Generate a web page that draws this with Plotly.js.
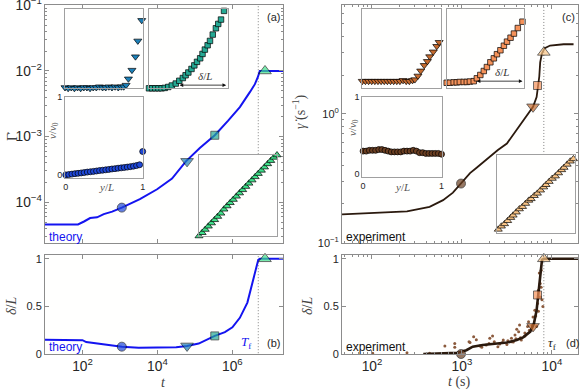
<!DOCTYPE html>
<html>
<head>
<meta charset="utf-8">
<script src="https://cdn.plot.ly/plotly-3.0.1.min.js"></script>
<style>
  html, body { margin: 0; padding: 0; background: #fff; }
  #chart { width: 581px; height: 390px; }
</style>
</head>
<body>
<div id="chart"></div>
<script>
// ---- theory, panel (a): shear rate vs t ----
var tTheory = [10, 76, 110, 160, 245, 370, 620, 1120, 3400, 9800, 24500, 57500, 135000, 339000, 760000, 1.58e6, 2.95e6, 3.98e6, 4.79e6, 5.37e6, 2.24e7];
var rateTheory = [4.6e-5, 4.6e-5, 5.1e-5, 5.75e-5, 5.9e-5, 6.6e-5, 7.2e-5, 8.3e-5, 1.12e-4, 1.58e-4, 2.3e-4, 4.2e-4, 6.7e-4, 1.05e-3, 1.74e-3, 2.82e-3, 4.8e-3, 6.3e-3, 8.1e-3, 1.0e-2, 1.0e-2];

// ---- theory, panel (b): band width vs t ----
var tDelta = [10, 79, 100, 126, 250, 630, 1120, 3160, 1e4, 31600, 61700, 126000, 339000, 631000, 1e6, 1.58e6, 2.51e6, 3.55e6, 4.47e6, 4.9e6, 5.37e6, 2.24e7];
var deltaTheory = [0.15, 0.15, 0.145, 0.125, 0.11, 0.09, 0.077, 0.066, 0.065, 0.072, 0.085, 0.11, 0.19, 0.23, 0.28, 0.38, 0.54, 0.76, 0.92, 0.99, 1.0, 1.0];

// ---- experiment, panel (c) ----
var tExp = [46.5, 245, 437, 617, 794, 977, 1230, 1445, 2040, 2510, 3160, 4070, 4790, 5750, 6170, 6760, 7240, 7410, 7760, 8320, 9550, 13500, 17400];
var rateExp = [0.166, 0.175, 0.19, 0.214, 0.245, 0.288, 0.347, 0.38, 0.468, 0.525, 0.589, 0.759, 0.891, 1.07, 1.135, 1.35, 1.95, 2.51, 2.95, 3.24, 3.39, 3.47, 3.47];

// ---- experiment, panel (d) ----
var tDeltaExp = [372, 631, 891, 1120, 1320, 1700, 2190, 3160, 4070, 4790, 5750, 6310, 6760, 7080, 7410, 7590, 7760, 8130, 19500];
var deltaExp = [0, 0.005, 0.012, 0.04, 0.077, 0.095, 0.105, 0.12, 0.147, 0.175, 0.235, 0.32, 0.46, 0.62, 0.78, 0.92, 0.99, 1.0, 1.0];
var tDots = [102, 245, 437, 646, 832, 832, 1200, 1230, 1350, 1445, 1580, 1660, 1860, 2000, 2040, 2190, 2290, 2510, 2630, 2820, 2880, 3160, 3240, 3550, 3550, 3720, 3890, 3980, 4070, 4270, 4370, 4470, 4570, 5010, 5010, 5370, 5500, 5620, 6030, 6170, 6460, 6610, 6760, 6920, 7080, 7080, 7240, 7410, 7410, 7590, 7590, 7760, 7940];
var deltaDots = [0.007, 0.014, 0.007, 0.084, 0.07, 0.11, 0.13, 0.12, 0.18, 0.15, 0.085, 0.07, 0.095, 0.11, 0.165, 0.19, 0.13, 0.077, 0.105, 0.12, 0.147, 0.10, 0.14, 0.165, 0.13, 0.126, 0.2, 0.16, 0.26, 0.235, 0.305, 0.17, 0.147, 0.19, 0.22, 0.29, 0.34, 0.25, 0.3, 0.39, 0.46, 0.4, 0.29, 0.53, 0.67, 0.45, 0.85, 0.74, 0.6, 0.88, 0.7, 0.57, 0.5];

// ---- marked instants (circle, down-triangle, square, up-triangle) ----
var tMarkTheory = [1120, 61700, 339000, 7.41e6];
var rateMarkTheory = [8.3e-5, 4.2e-4, 1.05e-3, 1.0e-2];
var deltaMarkTheory = [0.077, 0.085, 0.19, 1.0];
var tMarkExp = [977, 6170, 6920, 8130];
var rateMarkExp = [0.288, 1.135, 1.66, 3.0];
var deltaMarkExp = [0, 0.29, 0.62, 1.0];
var Tf = 4.9e6;
var tauf = 8130;
// the failure-time guide stops where the lower-right inset begins
var TfGuideFloor = 5.4e-4;
var taufGuideFloor = 0.48;

// ---- velocity profiles (insets), y/L and v/v0 ----
var yA1 = [0, 0.04, 0.08, 0.12, 0.16, 0.2, 0.24, 0.28, 0.32, 0.36, 0.4, 0.44, 0.48, 0.52, 0.56, 0.6, 0.64, 0.68, 0.72, 0.75, 0.78, 0.81, 0.855, 0.9, 0.93, 0.98];
var vA1 = [0.01, 0, 0.01, 0, 0.01, 0, 0.01, 0.01, 0, 0.01, 0.01, 0.02, 0.01, 0.01, 0.02, 0.01, 0.02, 0.01, 0.02, 0.02, 0.04, 0.12, 0.23, 0.4, 0.6, 0.86];
var yA2 = [0, 0.04, 0.08, 0.12, 0.16, 0.2, 0.245, 0.29, 0.34, 0.385, 0.43, 0.465, 0.5, 0.54, 0.576, 0.61, 0.65, 0.68, 0.71, 0.745, 0.775, 0.81, 0.85, 0.88, 0.915, 0.953];
var vA2 = [0, 0, 0, 0, 0, 0.005, 0.017, 0.035, 0.06, 0.095, 0.13, 0.165, 0.2, 0.245, 0.29, 0.335, 0.38, 0.435, 0.49, 0.545, 0.6, 0.68, 0.76, 0.815, 0.87, 0.98];
var yA3 = [0, 0.04, 0.08, 0.12, 0.16, 0.2, 0.24, 0.28, 0.32, 0.36, 0.4, 0.44, 0.48, 0.52, 0.56, 0.6, 0.64, 0.68, 0.72, 0.76, 0.8, 0.84, 0.88, 0.92, 0.96, 1.0];
var vA3 = [0, 0.005, 0.01, 0.016, 0.02, 0.025, 0.03, 0.036, 0.04, 0.045, 0.05, 0.056, 0.06, 0.065, 0.07, 0.076, 0.08, 0.086, 0.09, 0.095, 0.1, 0.106, 0.112, 0.12, 0.13, 0.30];
var yA4 = [0, 0.04, 0.08, 0.12, 0.16, 0.2, 0.24, 0.28, 0.32, 0.36, 0.4, 0.44, 0.48, 0.52, 0.56, 0.6, 0.64, 0.68, 0.72, 0.76, 0.8, 0.84, 0.88, 0.92, 0.96, 1.0];
var vA4 = [0, 0.04, 0.08, 0.12, 0.16, 0.2, 0.24, 0.28, 0.33, 0.37, 0.41, 0.45, 0.49, 0.53, 0.57, 0.61, 0.65, 0.69, 0.73, 0.77, 0.81, 0.85, 0.89, 0.93, 0.97, 1.0];
var yC1 = [0, 0.04, 0.08, 0.12, 0.16, 0.2, 0.24, 0.28, 0.32, 0.36, 0.4, 0.44, 0.48, 0.52, 0.56, 0.6, 0.64, 0.67, 0.71, 0.745, 0.79, 0.83, 0.86, 0.905, 0.95, 0.98];
var vC1 = [0.09, 0.09, 0.09, 0.09, 0.09, 0.09, 0.09, 0.09, 0.09, 0.09, 0.09, 0.09, 0.09, 0.1, 0.09, 0.09, 0.1, 0.11, 0.156, 0.22, 0.29, 0.34, 0.4, 0.46, 0.53, 0.58];
var yC2 = [0, 0.04, 0.09, 0.13, 0.17, 0.22, 0.26, 0.3, 0.35, 0.39, 0.435, 0.48, 0.52, 0.565, 0.61, 0.65, 0.695, 0.74, 0.78, 0.826, 0.87, 0.92, 0.98];
var vC2 = [0.07, 0.07, 0.075, 0.075, 0.08, 0.08, 0.08, 0.085, 0.09, 0.126, 0.168, 0.218, 0.268, 0.328, 0.378, 0.43, 0.48, 0.537, 0.588, 0.638, 0.69, 0.76, 0.84];
var yC3 = [0, 0.04, 0.08, 0.12, 0.16, 0.2, 0.24, 0.28, 0.32, 0.36, 0.4, 0.44, 0.48, 0.52, 0.56, 0.6, 0.64, 0.68, 0.72, 0.76, 0.8, 0.84, 0.88, 0.92, 0.96, 1.0];
var vC3 = [0.30, 0.30, 0.31, 0.31, 0.31, 0.32, 0.32, 0.31, 0.30, 0.29, 0.29, 0.29, 0.29, 0.30, 0.30, 0.30, 0.31, 0.30, 0.28, 0.28, 0.27, 0.27, 0.27, 0.27, 0.27, 0.26];
var yC4 = [0.02, 0.06, 0.10, 0.14, 0.18, 0.21, 0.25, 0.29, 0.33, 0.37, 0.41, 0.44, 0.48, 0.52, 0.56, 0.60, 0.63, 0.67, 0.71, 0.75, 0.79, 0.83, 0.86, 0.90, 0.94, 0.98];
var vC4 = [0.05, 0.09, 0.12, 0.16, 0.20, 0.23, 0.27, 0.31, 0.34, 0.38, 0.42, 0.44, 0.48, 0.51, 0.55, 0.59, 0.62, 0.66, 0.70, 0.73, 0.77, 0.81, 0.84, 0.88, 0.92, 0.95];

// colours
var cTheory = '#1414f0', cExp = '#2b1a0e', cDots = '#8b5a3c';
var symbols = ['circle', 'triangle-down', 'square', 'triangle-up'];
var colA = ['#1f48d8', '#1d80b8', '#25a994', '#3fe08a'];
var colC = ['#6b3f22', '#c46a2e', '#f5925a', '#f9c486'];
var sizes = [9, 11, 8, 11];
var dotLine = {color: '#666', width: 0.8, dash: '1px,2px'};

var W = 581, H = 390;
function xd(a, b) { return [a / W, b / W]; }
function yd(top, bottom) { return [1 - bottom / H, 1 - top / H]; }

var data = [
  // (a)
  {x: [Tf, Tf], y: [TfGuideFloor, 1], xaxis: 'x', yaxis: 'y', mode: 'lines', line: dotLine},
  {x: tTheory, y: rateTheory, xaxis: 'x', yaxis: 'y', mode: 'lines', line: {color: cTheory, width: 2}},
  {x: tMarkTheory, y: rateMarkTheory, xaxis: 'x', yaxis: 'y', mode: 'markers', cliponaxis: false,
   marker: {symbol: symbols, color: colA, size: sizes, line: {color: '#000', width: 0.8}}},
  // (b)
  {x: [Tf, Tf], y: [-1, 2], xaxis: 'x2', yaxis: 'y2', mode: 'lines', line: dotLine},
  {x: tDelta, y: deltaTheory, xaxis: 'x2', yaxis: 'y2', mode: 'lines', line: {color: cTheory, width: 2}},
  {x: tMarkTheory, y: deltaMarkTheory, xaxis: 'x2', yaxis: 'y2', mode: 'markers', cliponaxis: false,
   marker: {symbol: symbols, color: colA, size: sizes, line: {color: '#000', width: 0.8}}},
  // (c)
  {x: [tauf, tauf], y: [taufGuideFloor, 100], xaxis: 'x3', yaxis: 'y3', mode: 'lines', line: dotLine},
  {x: tExp, y: rateExp, xaxis: 'x3', yaxis: 'y3', mode: 'lines', line: {color: cExp, width: 1.8}},
  {x: tMarkExp, y: rateMarkExp, xaxis: 'x3', yaxis: 'y3', mode: 'markers', cliponaxis: false,
   marker: {symbol: symbols, color: colC, size: sizes, line: {color: '#000', width: 0.8}}},
  // (d)
  {x: [tauf, tauf], y: [-1, 2], xaxis: 'x4', yaxis: 'y4', mode: 'lines', line: dotLine},
  {x: tDots, y: deltaDots, xaxis: 'x4', yaxis: 'y4', mode: 'markers', marker: {color: cDots, size: 3}},
  {x: tDeltaExp, y: deltaExp, xaxis: 'x4', yaxis: 'y4', mode: 'lines', line: {color: cExp, width: 2.6}},
  {x: tMarkExp, y: deltaMarkExp, xaxis: 'x4', yaxis: 'y4', mode: 'markers', cliponaxis: false,
   marker: {symbol: symbols, color: colC, size: sizes, line: {color: '#000', width: 0.8}}}
];

// inset profiles
function prof(x, y, ax, sym, col, sz) {
  return {x: x, y: y, xaxis: 'x' + ax, yaxis: 'y' + ax, mode: 'markers', cliponaxis: false,
          marker: {symbol: sym, color: col, size: sz, line: {color: '#000', width: 0.7}}};
}
data.push(prof(yA1, vA1, 5, 'triangle-down', colA[1], 7));
data.push(prof(yA2, vA2, 6, 'square', colA[2], 5.5));
data.push(prof(yA3, vA3, 7, 'circle', colA[0], 6));
data.push(prof(yA4, vA4, 8, 'triangle-up', colA[3], 7));
data.push(prof(yC1, vC1, 9, 'triangle-down', colC[1], 7));
data.push(prof(yC2, vC2, 10, 'square', colC[2], 5.5));
data.push(prof(yC3, vC3, 11, 'circle', colC[0], 6));
data.push(prof(yC4, vC4, 12, 'triangle-up', colC[3], 7));

var tickFont = {family: 'Liberation Sans, Arial, sans-serif', size: 11, color: '#262626'};
var frame = {showline: true, mirror: 'ticks', linecolor: '#8c8c8c', linewidth: 1, ticks: 'inside', ticklen: 4,
             tickcolor: '#8c8c8c', showgrid: false, zeroline: false, tickfont: tickFont, fixedrange: true,
             ticklabeloverflow: 'allow'};
var minorTicks = {ticks: 'inside', ticklen: 2, tickcolor: '#8c8c8c'};
var box = {showline: true, mirror: true, linecolor: '#a0a0a0', linewidth: 1, ticks: '', showticklabels: false,
           showgrid: false, zeroline: false, range: [0, 1], fixedrange: true};
var smallFont = {family: 'Liberation Sans, Arial, sans-serif', size: 9, color: '#262626'};

function ext(a, b) { return Object.assign({}, a, b); }

var layout = {
  width: W, height: H,
  margin: {l: 0, r: 0, t: 0, b: 0},
  paper_bgcolor: '#ffffff', plot_bgcolor: '#fffffe',
  showlegend: false,
  xaxis: ext(frame, {domain: xd(45, 283), anchor: 'y', type: 'log', range: [1, 7.35], tickmode: 'linear', tick0: 0, dtick: 2, showticklabels: false}),
  yaxis: ext(frame, {domain: yd(5, 243), anchor: 'x', type: 'log', range: [-4.62, -0.995], tickmode: 'linear', tick0: 0, dtick: 1, exponentformat: 'power', minor: minorTicks}),
  xaxis2: ext(frame, {domain: xd(45, 283), anchor: 'y2', type: 'log', range: [1, 7.35], tickmode: 'linear', tick0: 0, dtick: 2, exponentformat: 'power'}),
  yaxis2: ext(frame, {domain: yd(255, 354), anchor: 'x2', range: [0, 1.04], tickmode: 'array', tickvals: [0, 0.5, 1], ticktext: ['0', '0.5', '1']}),
  xaxis3: ext(frame, {domain: xd(342, 578), anchor: 'y3', type: 'log', range: [1.667, 4.29], tickmode: 'linear', tick0: 0, dtick: 1, showticklabels: false, minor: minorTicks}),
  yaxis3: ext(frame, {domain: yd(5, 243), anchor: 'x3', type: 'log', range: [-1.002, 0.845], tickmode: 'array', tickvals: [0.1, 1],
                      ticktext: ['10<sup>−1</sup>', '10<sup>0</sup>'],
                      minor: ext(minorTicks, {tickmode: 'array', tickvals: [0.2, 0.3, 0.4, 0.5, 0.6, 0.7, 0.8, 0.9, 2, 3, 4, 5, 6, 7]})}),
  xaxis4: ext(frame, {domain: xd(342, 578), anchor: 'y4', type: 'log', range: [1.667, 4.29], tickmode: 'linear', tick0: 0, dtick: 1, exponentformat: 'power', minor: minorTicks}),
  yaxis4: ext(frame, {domain: yd(255, 354), anchor: 'x4', range: [0, 1.04], tickmode: 'array', tickvals: [0, 0.5, 1], ticktext: ['0', '0.5', '1']}),
  // insets
  xaxis5: ext(box, {domain: xd(65, 143.3), anchor: 'y5'}),
  yaxis5: ext(box, {domain: yd(9.3, 88.3), anchor: 'x5'}),
  xaxis6: ext(box, {domain: xd(149, 227.7), anchor: 'y6'}),
  yaxis6: ext(box, {domain: yd(9.3, 88.3), anchor: 'x6'}),
  xaxis7: ext(box, {domain: xd(65, 142.7), anchor: 'y7', range: [-0.01, 1], showticklabels: true, tickmode: 'array', tickvals: [0, 1], tickfont: smallFont}),
  yaxis7: ext(box, {domain: yd(97, 178), anchor: 'x7', range: [-0.04, 1], showticklabels: true, tickmode: 'array', tickvals: [0, 1], tickfont: smallFont}),
  xaxis8: ext(box, {domain: xd(199, 277), anchor: 'y8'}),
  yaxis8: ext(box, {domain: yd(155, 236), anchor: 'x8'}),
  xaxis9: ext(box, {domain: xd(362.3, 440.7), anchor: 'y9'}),
  yaxis9: ext(box, {domain: yd(9, 88.3), anchor: 'x9'}),
  xaxis10: ext(box, {domain: xd(446.7, 524), anchor: 'y10'}),
  yaxis10: ext(box, {domain: yd(9, 88.3), anchor: 'x10'}),
  xaxis11: ext(box, {domain: xd(362.3, 441.5), anchor: 'y11', range: [-0.01, 1], showticklabels: true, tickmode: 'array', tickvals: [0, 1], tickfont: smallFont}),
  yaxis11: ext(box, {domain: yd(97, 177), anchor: 'x11', range: [-0.035, 1], showticklabels: true, tickmode: 'array', tickvals: [0, 1], tickfont: smallFont}),
  xaxis12: ext(box, {domain: xd(496.7, 575), anchor: 'y12'}),
  yaxis12: ext(box, {domain: yd(155, 233.3), anchor: 'x12'}),
  annotations: []
};

var serif = 'Liberation Serif, DejaVu Serif, serif';
var sans = 'Liberation Sans, Arial, sans-serif';
function note(px, py, text, o) {
  o = o || {};
  layout.annotations.push({
    xref: 'paper', yref: 'paper', x: px / W, y: 1 - py / H, text: text, showarrow: false,
    xanchor: o.xa || 'center', yanchor: 'middle', textangle: o.angle || 0,
    font: {family: o.family || sans, size: o.size || 11, color: o.color || '#262626'}
  });
}
// panel letters
note(273, 17, '(a)'); note(273, 343, '(b)'); note(568, 17, '(c)'); note(572, 343, '(d)');
// curve labels
note(47, 237, 'theory', {xa: 'left', size: 12, color: cTheory});
note(47, 347, 'theory', {xa: 'left', size: 12, color: cTheory});
note(344, 237, 'experiment', {xa: 'left', size: 12, color: '#111'});
note(344, 347, 'experiment', {xa: 'left', size: 12, color: '#111'});
note(246, 342, '<i>T</i><sub>f</sub>', {family: serif, size: 13, color: cTheory});
note(552, 343, '<i>τ</i><sub>f</sub>', {family: serif, size: 13, color: '#222'});
// axis titles
note(12, 137, 'Γ̇', {angle: -90, family: serif, size: 14, color: '#444'});
note(11, 306, '<i>δ</i>/<i>L</i>', {angle: -90, family: serif, size: 14, color: '#444'});
note(300, 112, '<i>γ̇</i> (s<sup>−1</sup>)', {angle: -90, family: serif, size: 14, color: '#444'});
note(307, 306, '<i>δ</i>/<i>L</i>', {angle: -90, family: serif, size: 14, color: '#444'});
note(163, 382, '<i>t</i>', {family: serif, size: 14, color: '#444'});
note(460, 382, '<i>t</i> (s)', {family: serif, size: 14, color: '#444'});
// inset axis titles
note(53, 131, '<i>v</i>/<i>v</i><sub>0</sub>', {angle: -90, family: serif, size: 11, color: '#555'});
note(106, 187, '<i>y</i>/<i>L</i>', {family: serif, size: 11, color: '#555'});
note(353, 128, '<i>v</i>/<i>v</i><sub>0</sub>', {angle: -90, family: serif, size: 11, color: '#555'});
note(402, 187, '<i>y</i>/<i>L</i>', {family: serif, size: 11, color: '#555'});

// double arrows marking the band width in the insets
function bandArrow(ax, x0, x1, yy, lx, ly) {
  layout.annotations.push({xref: 'x' + ax, yref: 'y' + ax, axref: 'x' + ax, ayref: 'y' + ax,
    x: x1, y: yy, ax: x0, ay: yy, text: '', showarrow: true, arrowside: 'end+start',
    arrowhead: 2, arrowsize: 0.9, arrowwidth: 0.8, arrowcolor: '#111'});
  layout.annotations.push({xref: 'x' + ax, yref: 'y' + ax, x: lx, y: ly, text: '<i>δ</i>/<i>L</i>',
    showarrow: false, font: {family: serif, size: 11, color: '#333'}});
}
bandArrow(6, 0.37, 0.98, 0.04, 0.71, 0.16);
bandArrow(10, 0.37, 0.98, 0.09, 0.72, 0.2);

Plotly.newPlot('chart', data, layout, {staticPlot: true, displayModeBar: false});
</script>
</body>
</html>
